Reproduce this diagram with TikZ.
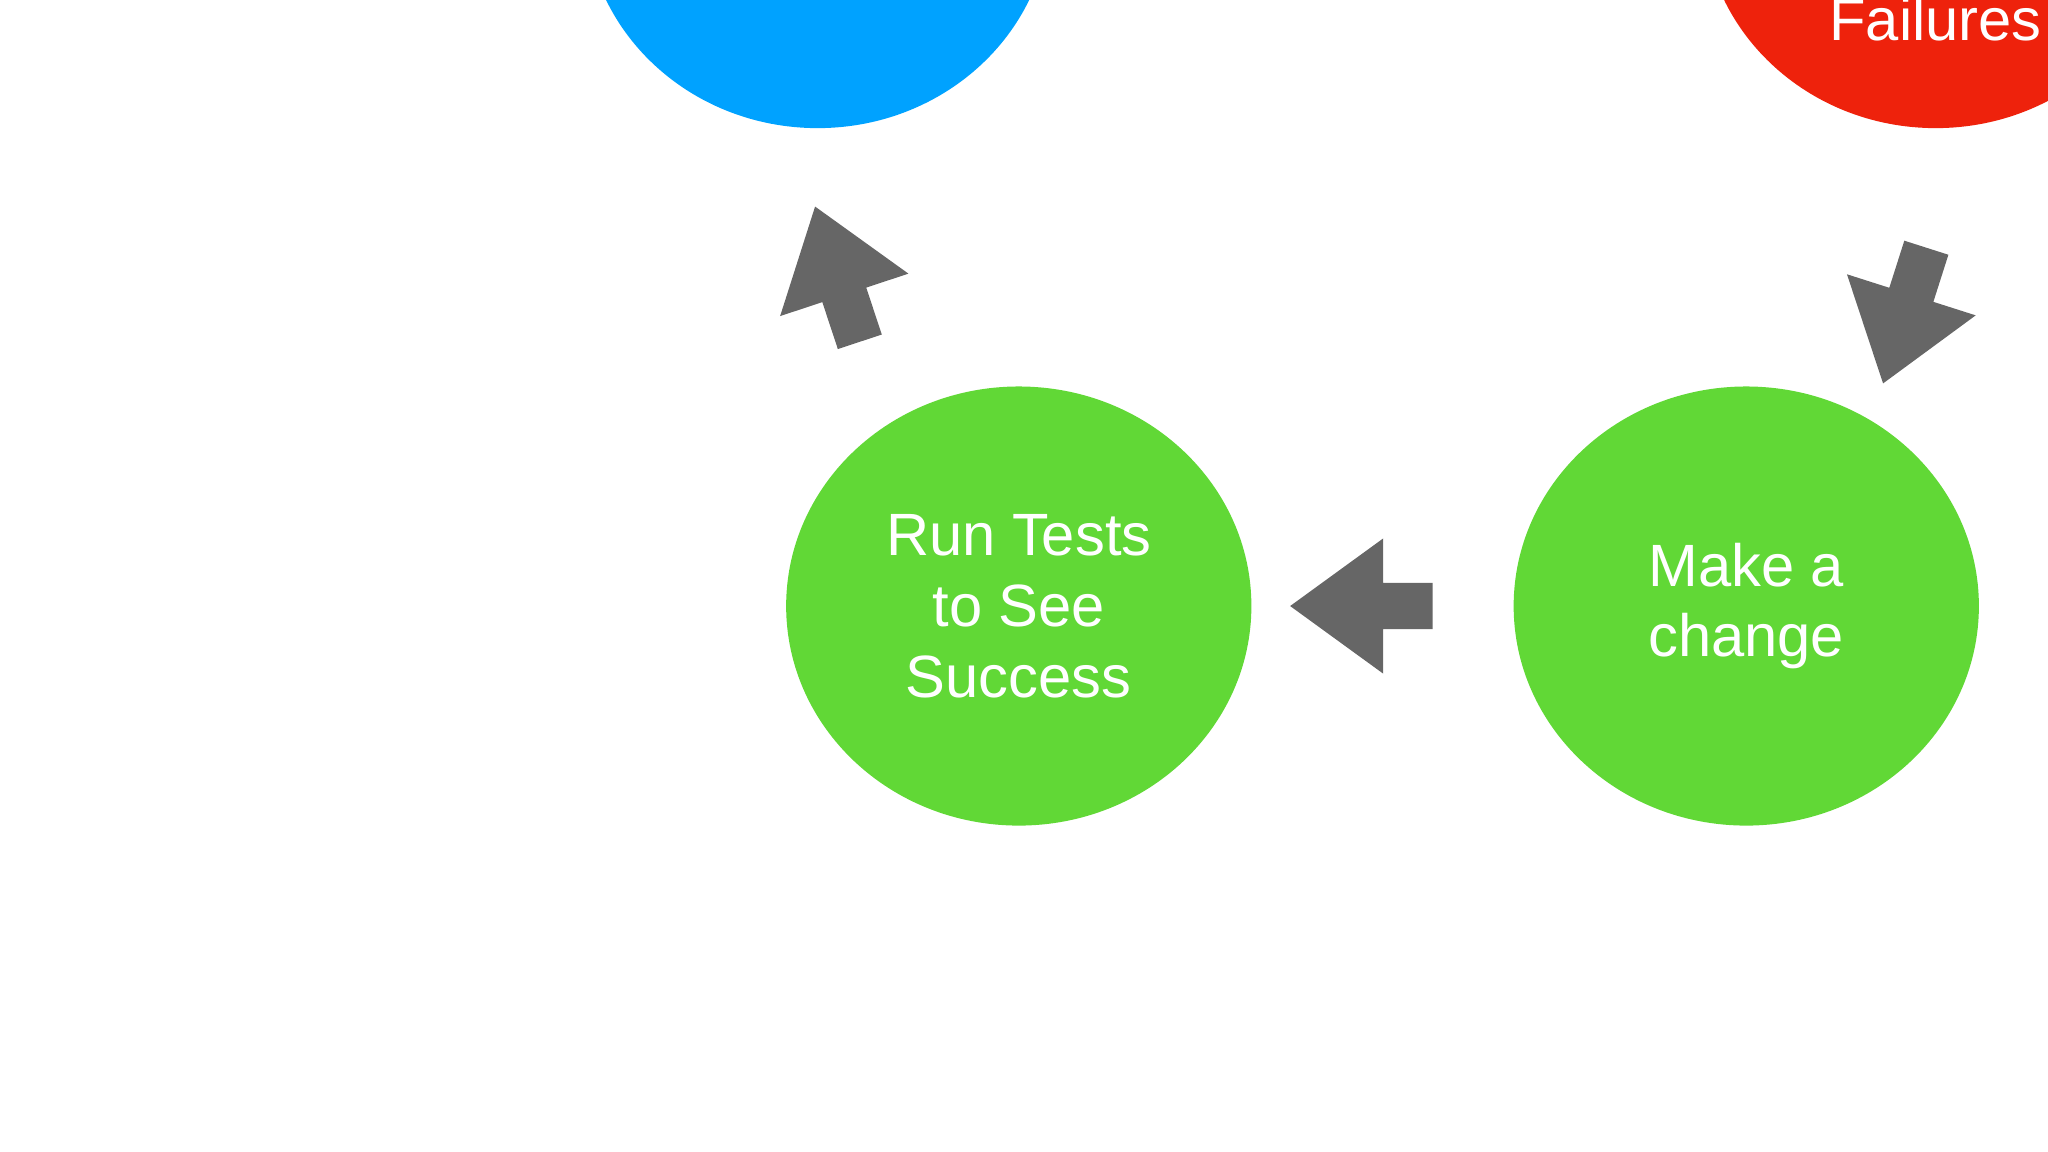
\documentclass[tikz,border=0pt]{standalone}
\usepackage{fontspec}
\setmainfont{Liberation Sans}
\usetikzlibrary{shapes.geometric, shapes.arrows, positioning}
\definecolor{stepblue}{HTML}{00A2FF}
\definecolor{stepred}{HTML}{EE220C}
\definecolor{stepgreen}{HTML}{61D836}
\definecolor{arrowgray}{HTML}{666666}
\begin{document}
\begin{tikzpicture}[x=0.01cm, y=-0.01cm]
    \tikzstyle{stage}=[ellipse, minimum width=3.56cm, minimum height=3.36cm, inner sep=0pt
    , align=center, text=white, font=\fontsize{13}{15.4}\selectfont]
    \tikzstyle{flow}=[single arrow, fill=arrowgray, draw=none, inner sep=0pt, inner ysep=0.17cm
    , minimum height=1.09cm, single arrow head extend=0.34cm, single arrow tip angle=72]
    \clip (0,0) rectangle (1568,882);
    \node[stage, fill=stepblue] (write) at (626,-70) {};
    \node[stage, fill=stepred] (fail) at (1482,-70) {};
    \node[text=white, font=\fontsize{13}{15.4}\selectfont] (failtext) at (1482,15) {Failures};
    \node[stage, fill=stepgreen] (run) at (780,464) {Run Tests\\to See\\Success};
    \node[stage, fill=stepgreen] (change) at (1337,464) {Make a\\change};

    % arrows
    \node[flow, rotate=252.3] (fail2change) at (1462,230) {};
    \node[flow, rotate=180] (change2run) at (1054.5,464) {};
    \node[flow, rotate=108.3] (run2write) at (645,221.5) {};
\end{tikzpicture}
\end{document}
